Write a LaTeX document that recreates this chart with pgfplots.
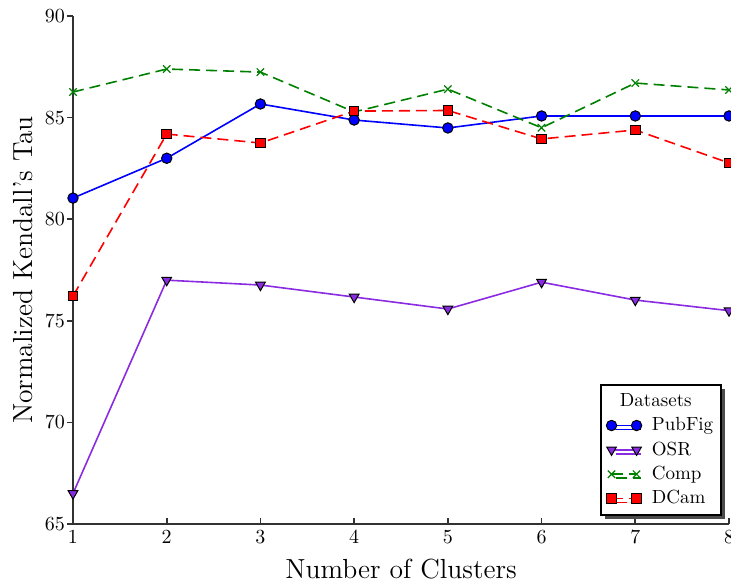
\documentclass[border=0pt]{standalone}
\usepackage{pgfplots}
\pgfplotsset{compat=1.18}
\usetikzlibrary{shadows}
\definecolor{osr}{RGB}{138,43,226}
\definecolor{compg}{RGB}{0,128,0}
\definecolor{axgray}{RGB}{50,50,50}
\begin{document}
\begin{tikzpicture}
\begin{axis}[
  scale only axis, width=328pt, height=254pt,
  xmin=1, xmax=8, ymin=65, ymax=90,
  xtick={1,...,8}, ytick={65,70,...,90},
  axis x line*=bottom, axis y line*=left,
  axis line style={draw=axgray, line width=0.9pt},
  tick style={draw=axgray, line width=0.9pt},
  major tick length=3pt,
  xtick align=inside, ytick align=outside,
  yticklabel style={xshift=2.5pt},
  xlabel={\fontsize{13.8}{16}\selectfont Number of Clusters},
  ylabel={\fontsize{13.8}{16}\selectfont Normalized Kendall's Tau},
  xlabel style={at={(axis description cs:0.5,-0.1063)}, anchor=base},
  ylabel style={at={(axis description cs:-0.061,0.5)}, anchor=base},
  clip=false,
  legend cell align=left,
  legend style={font=\fontsize{9.5}{11}\selectfont, at={(1,0)}, anchor=south east, xshift=-3.5pt, yshift=4pt,
    draw=black, line width=0.8pt, fill=white, inner xsep=2pt, inner ysep=2.2pt, row sep=0pt,
    /tikz/every odd column/.append style={column sep=3pt},
    drop shadow={shadow xshift=2pt, shadow yshift=-2pt, fill=black!70, opacity=1}},
  legend image code/.code={\path (0cm,0cm) (0.62cm,0cm); \draw[mark repeat=2, mark phase=1] plot coordinates {(0.1cm,0cm) (0.32cm,0cm) (0.54cm,0cm)};},
]
\addlegendimage{empty legend}
\addlegendentry{\hspace{-16pt}Datasets}
\addplot[blue, line width=0.8pt, mark=*, mark size=2.6pt, mark options={solid, fill=blue, draw=black, line width=0.5pt}]
  coordinates {(1,81.04) (2,83.0) (3,85.67) (4,84.88) (5,84.49) (6,85.08) (7,85.08) (8,85.08)};
\addlegendentry{PubFig}
\addplot[osr, line width=0.8pt, mark=triangle*, mark size=2.8pt, mark options={solid, rotate=180, fill=osr, draw=black, line width=0.5pt}]
  coordinates {(1,66.5) (2,77.0) (3,76.76) (4,76.17) (5,75.58) (6,76.9) (7,76.02) (8,75.5)};
\addlegendentry{OSR}
\addplot[compg, line width=0.8pt, dash pattern=on 5.5pt off 3pt, mark=x, mark size=2.6pt, mark options={solid, line width=0.6pt}]
  coordinates {(1,86.26) (2,87.39) (3,87.24) (4,85.28) (5,86.4) (6,84.5) (7,86.7) (8,86.36)};
\addlegendentry{Comp}
\addplot[red, line width=0.8pt, dash pattern=on 5.5pt off 3pt, mark=square*, mark size=2.4pt, mark options={solid, fill=red, draw=black, line width=0.5pt}]
  coordinates {(1,76.22) (2,84.19) (3,83.75) (4,85.32) (5,85.35) (6,83.95) (7,84.39) (8,82.77)};
\addlegendentry{DCam}
\end{axis}
\pgfresetboundingbox
\path ([xshift=-36.5pt,yshift=-29.5pt]current axis.south west) rectangle ([xshift=1pt,yshift=8pt]current axis.north east);
\end{tikzpicture}
\end{document}
